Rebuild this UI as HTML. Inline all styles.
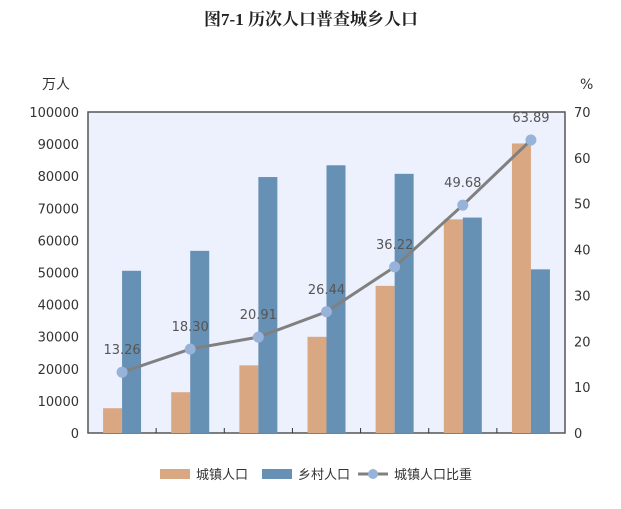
<!DOCTYPE html>
<html><head><meta charset="utf-8"><style>
body{margin:0;background:#fff;width:621px;height:505px;overflow:hidden;font-family:"DejaVu Sans","Liberation Sans","Noto Sans CJK SC",sans-serif;}
</style></head><body>
<svg id="c" width="621" height="505" xmlns="http://www.w3.org/2000/svg"></svg>
<script>
const categories=["1953","1964","1982","1990","2000","2010","2020"];
const urban=[7726,12710,21082,29971,45844,66557,90199];
const rural=[50534,56748,79736,83397,80739,67113,50979];
const ratio=[13.26,18.30,20.91,26.44,36.22,49.68,63.89];
const leftTicks=[0,10000,20000,30000,40000,50000,60000,70000,80000,90000,100000];
const rightTicks=[0,10,20,30,40,50,60,70];
const NS="http://www.w3.org/2000/svg",svg=document.getElementById('c');
const L=88,R=565,T=112,B=433,bw=19;
const step=(R-L)/categories.length;
const xc=i=>L+step*(i+0.5);
const yl=v=>B-(v/100000)*(B-T);
const yr=v=>B-(v/70)*(B-T);
function el(t,a,p){const e=document.createElementNS(NS,t);for(const k in a)e.setAttribute(k,a[k]);(p||svg).appendChild(e);return e;}
let e;
e=el('text',{x:311,y:25,'text-anchor':'middle','font-size':17,'font-weight':'bold','font-family':'"Liberation Serif","Noto Serif CJK SC",serif',fill:'#222'});e.textContent='图7-1  历次人口普查城乡人口';


e=el('rect',{x:L,y:T,width:R-L,height:B-T,fill:'#edf1fd',stroke:'#555','stroke-width':1.5});


e=el('text',{x:42,y:89,'font-size':14,fill:'#333','font-family':'"Noto Sans CJK SC",sans-serif'});e.textContent='万人';


e=el('text',{x:580,y:89,'font-size':14,fill:'#333'});e.textContent='%';


leftTicks.forEach(v=>{e=el('text',{x:79,y:yl(v)+5,'text-anchor':'end','font-size':13,fill:'#333'});e.textContent=v;

});
rightTicks.forEach(v=>{e=el('text',{x:574,y:yr(v)+5,'font-size':13,fill:'#333'});e.textContent=v;

});
for(let i=1;i<categories.length;i++){e=el('line',{x1:L+step*i,x2:L+step*i,y1:B,y2:B-5,stroke:'#333','stroke-width':1});

}
categories.forEach((c,i)=>{
e=el('rect',{x:xc(i)-bw,y:yl(urban[i]),width:bw,height:B-yl(urban[i]),fill:'#daa783'});


e=el('rect',{x:xc(i),y:yl(rural[i]),width:bw,height:B-yl(rural[i]),fill:'#6690b4'});


});
e=el('polyline',{points:ratio.map((v,i)=>xc(i)+','+yr(v)).join(' '),fill:'none',stroke:'#808080','stroke-width':3});


ratio.forEach((v,i)=>{
e=el('circle',{cx:xc(i),cy:yr(v),r:5.5,fill:'#98b3d9'});


e=el('text',{x:xc(i),y:yr(v)-18,'text-anchor':'middle','font-size':13,fill:'#555'});e.textContent=v.toFixed(2);


});
const lg=[[160,'rect','#daa783','城镇人口'],[262,'rect','#6690b4','乡村人口'],[358,'line','#808080','城镇人口比重']];
lg.forEach(([x,t,c,s],k)=>{
const g=el('g',{});


if(t==='rect')el('rect',{x:x,y:469,width:30,height:10,fill:c},g);
else{el('line',{x1:x,x2:x+30,y1:474,y2:474,stroke:c,'stroke-width':3},g);el('circle',{cx:x+15,cy:474,r:5,fill:'#98b3d9'},g);}
const tx=el('text',{x:x+36,y:479,'font-size':13,fill:'#333','font-family':'"Noto Sans CJK SC",sans-serif'},g);tx.textContent=s;
});
</script>
</body></html>
